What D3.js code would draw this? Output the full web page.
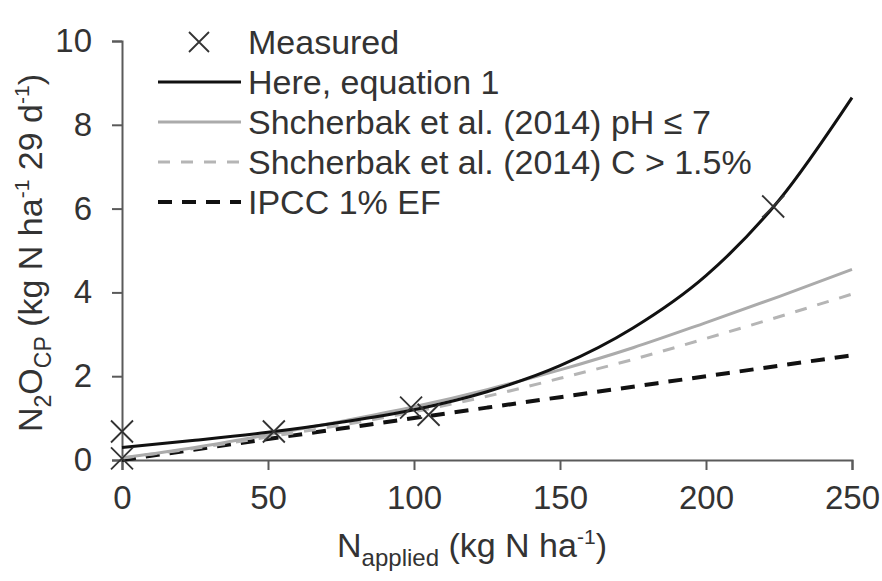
<!DOCTYPE html>
<html>
<head>
<meta charset="utf-8">
<script src="https://cdn.jsdelivr.net/npm/d3@7"></script>
<style>
  body { margin: 0; background: #fff; }
  svg text { font-family: "Liberation Sans", Arial, sans-serif; fill: #333; }
</style>
</head>
<body>
<div id="chart"></div>
<script>

// N applied (kg N ha-1) at which the model curves are read
var nApplied = [0, 25, 50, 75, 100, 125, 150, 175, 200, 225, 250];

// model curves, N2O (kg N ha-1 29 d-1)
var hereEq1   = [0.30, 0.47, 0.66, 0.90, 1.20, 1.63, 2.25, 3.15, 4.40, 6.20, 8.65];
var shchPH    = [0.05, 0.30, 0.60, 0.92, 1.27, 1.68, 2.15, 2.68, 3.28, 3.90, 4.55];
var shchC     = [0.05, 0.28, 0.55, 0.83, 1.15, 1.52, 1.95, 2.40, 2.90, 3.42, 3.96];
var ipcc      = [0.00, 0.25, 0.50, 0.75, 1.00, 1.25, 1.50, 1.75, 2.00, 2.25, 2.50];

// measured points
var measuredN   = [0, 0, 52, 99, 105, 223];
var measuredN2O = [0.68, 0.04, 0.68, 1.25, 1.08, 6.05];

var xTicks = [0, 50, 100, 150, 200, 250];
var yTicks = [0, 2, 4, 6, 8, 10];

var seriesNames = ["Here, equation 1", "Shcherbak et al. (2014) pH \u2264 7",
                   "Shcherbak et al. (2014) C > 1.5%", "IPCC 1% EF"];

var styles = [
    { color: "#111", width: 3, dash: null },
    { color: "#ababab", width: 3, dash: null },
    { color: "#b5b5b5", width: 3, dash: "12,11" },
    { color: "#111", width: 4, dash: "14,10" }
];

var width = 882, height = 581;

var svg = d3.select("#chart").append("svg")
    .attr("width", width)
    .attr("height", height);

var xScale = d3.scaleLinear()
    .domain([0, 250])
    .range([122, 852]);

var yScale = d3.scaleLinear()
    .domain([0, 10])
    .range([460, 41]);

var xAxis = d3.axisBottom(xScale)
    .tickValues(xTicks)
    .tickSize(10)
    .tickPadding(16);

var yAxis = d3.axisLeft(yScale)
    .tickValues(yTicks)
    .tickSize(10)
    .tickPadding(20);

var xAxisG = svg.append("g")
    .attr("transform", "translate(0," + yScale(0) + ")")
    .call(xAxis);

var yAxisG = svg.append("g")
    .attr("transform", "translate(" + xScale(0) + ",0)")
    .call(yAxis);

[xAxisG, yAxisG].forEach(function(g){
    g.select(".domain").attr("stroke", "#5a5a5a").attr("stroke-width", 2);
    g.selectAll(".tick line").attr("stroke", "#5a5a5a").attr("stroke-width", 2);
    g.selectAll(".tick text")
	.style("font-size", "33px")
	.style("font-family", "'Liberation Sans', Arial, sans-serif")
	.attr("fill", "#333");
});

// curves
var allSeries = [hereEq1, shchPH, shchC, ipcc];

var line = d3.line()
    .x(function(d){ return xScale(d[0]); })
    .y(function(d){ return yScale(d[1]); })
    .curve(d3.curveMonotoneX);

var curveLayer = svg.append("g");

// draw back to front: IPCC, C, pH, here
[3, 2, 1, 0].forEach(function(i){
    var pts = nApplied.map(function(n, j){ return [n, allSeries[i][j]]; });
    curveLayer.append("path")
	.datum(pts)
	.attr("fill", "none")
	.attr("stroke", styles[i].color)
	.attr("stroke-width", styles[i].width)
	.attr("stroke-dasharray", styles[i].dash)
	.attr("d", line);
});

// measured crosses
var cross = function(g, cx, cy, s){
    g.append("path")
	.attr("d", "M" + (cx - s) + "," + (cy - s) + "L" + (cx + s) + "," + (cy + s) +
	      "M" + (cx - s) + "," + (cy + s) + "L" + (cx + s) + "," + (cy - s))
	.attr("stroke", "#333")
	.attr("stroke-width", 1.8)
	.attr("fill", "none");
};

var pointLayer = svg.append("g");
measuredN.forEach(function(n, i){
    cross(pointLayer, xScale(n), yScale(measuredN2O[i]), 11);
});

// legend
var legend = svg.append("g");
var rowY = [42, 82, 122, 162, 202];

cross(legend, 199, rowY[0], 10);
legend.append("text")
    .attr("x", 248)
    .attr("y", rowY[0])
    .attr("dy", "0.36em")
    .style("font-size", "34px")
    .text("Measured");

seriesNames.forEach(function(name, i){
    var y = rowY[i + 1];
    legend.append("line")
	.attr("x1", 158).attr("x2", 241)
	.attr("y1", y).attr("y2", y)
	.attr("stroke", styles[i].color)
	.attr("stroke-width", styles[i].width)
	.attr("stroke-dasharray", styles[i].dash);
    legend.append("text")
	.attr("x", 248)
	.attr("y", y)
	.attr("dy", "0.36em")
	.style("font-size", "34px")
	.text(name);
});

// axis titles
var xTitle = svg.append("text")
    .attr("x", 472)
    .attr("y", 557)
    .attr("text-anchor", "middle")
    .style("font-size", "34px");
xTitle.append("tspan").text("N");
xTitle.append("tspan").attr("dy", 9).style("font-size", "24px").text("applied");
xTitle.append("tspan").attr("dy", -9).text(" (kg N ha");
xTitle.append("tspan").attr("dy", -13).style("font-size", "21px").text("-1");
xTitle.append("tspan").attr("dy", 13).text(")");

var yTitle = svg.append("text")
    .attr("transform", "translate(42,253) rotate(-90)")
    .attr("text-anchor", "middle")
    .style("font-size", "34px");
yTitle.append("tspan").text("N");
yTitle.append("tspan").attr("dy", 9).style("font-size", "23px").text("2");
yTitle.append("tspan").attr("dy", -9).text("O");
yTitle.append("tspan").attr("dy", 9).style("font-size", "23px").text("CP");
yTitle.append("tspan").attr("dy", -9).text(" (kg N ha");
yTitle.append("tspan").attr("dy", -13).style("font-size", "21px").text("-1");
yTitle.append("tspan").attr("dy", 13).text(" 29 d");
yTitle.append("tspan").attr("dy", -13).style("font-size", "21px").text("-1");
yTitle.append("tspan").attr("dy", 13).text(")");

</script>
</body>
</html>
